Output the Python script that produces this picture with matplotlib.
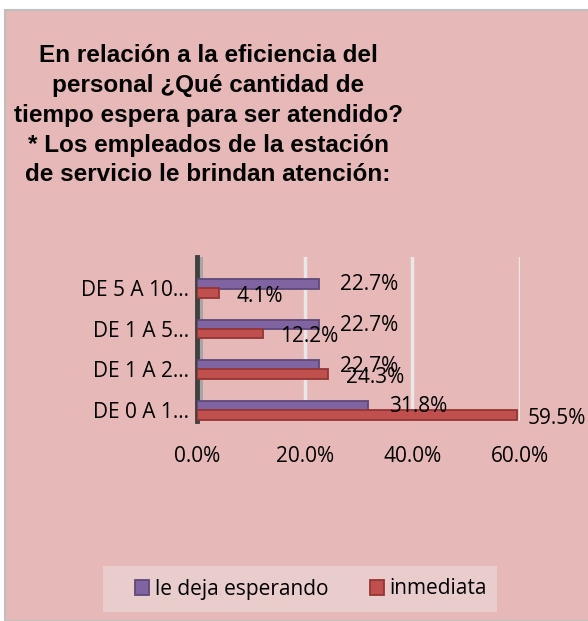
import matplotlib.pyplot as plt
from matplotlib.patches import Rectangle

categorias = ['DE 0 A 1…', 'DE 1 A 2…', 'DE 1 A 5…', 'DE 5 A 10…']
le_deja = [31.8, 22.7, 22.7, 22.7]
inmediata = [59.5, 24.3, 12.2, 4.1]
ticks = [0, 20, 40, 60]

fondo = '#E6B8B7'
fig = plt.figure(figsize=(5.88, 6.21), dpi=100)
fig.patch.set_facecolor('white')
fig.patches.append(Rectangle((5/588, 0), 1, 1 - 10/621, transform=fig.transFigure,
                             facecolor=fondo, edgecolor='#BFBFBF', linewidth=1.5, zorder=-1))

titulo = ('En relación a la eficiencia del\npersonal ¿Qué cantidad de\n'
          'tiempo espera para ser atendido?\n* Los empleados de la estación\n'
          'de servicio le brindan atención:')
fig.text(208/588, 1 - 44/621, titulo, ha='center', va='top', fontsize=17.5,
         fontweight='bold', family='Liberation Sans', linespacing=1.38)

ax = fig.add_axes([197/588, 1 - 421/621, (520-197)/588, 164/621])
ax.set_facecolor('none')
y = range(len(categorias))
h = 0.24
ax.barh([i + 0.1 for i in y], le_deja, height=h, color='#8064A2', edgecolor='#5F497A', linewidth=1.3, zorder=3, label='le deja esperando')
ax.barh([i - 0.12 for i in y], inmediata, height=h, color='#C0504D', edgecolor='#943634', linewidth=1.3, zorder=3, label='inmediata')

for i in y:
    ax.text(le_deja[i] + 3.8, i + 0.08, f'{le_deja[i]:.1f}%', va='center', ha='left', fontsize=15, family='Open Sans')
    ax.text(min(inmediata[i] + 3.3, 61.4), i - 0.2, f'{inmediata[i]:.1f}%', va='center', ha='left', fontsize=15, family='Open Sans')

ax.set_xlim(0, 60)
ax.set_ylim(-0.27, 3.76)
ax.set_xticks(ticks)
ax.set_xticklabels([f'{t:.1f}%' for t in ticks], fontsize=15, family='Open Sans')
ax.set_yticks(list(y))
ax.set_yticklabels(categorias, fontsize=15, family='Open Sans')
ax.tick_params(length=0)
ax.tick_params(axis='x', pad=18)
ax.tick_params(axis='y', pad=6)
ax.xaxis.grid(True, color='#E8E8E8', linewidth=2.5, zorder=0)
for s in ['top', 'right', 'bottom']:
    ax.spines[s].set_visible(False)
ax.spines['left'].set_color('#404040')
ax.spines['left'].set_linewidth(3.5)
ax.add_patch(Rectangle((0, -0.27), 1.2, 4.03, facecolor='#A6A6A6', edgecolor='none', zorder=1))

# caja de la leyenda
fig.patches.append(Rectangle((103/588, 1 - 612/621), 394/588, 46/621, transform=fig.transFigure,
                             facecolor='#E9CCCC', edgecolor='none', zorder=0))
fig.legend(loc='center', bbox_to_anchor=(311/588, 1 - 589/621), ncol=2, frameon=False,
           prop={'family': 'Open Sans', 'size': 15}, handlelength=0.7, handleheight=0.7,
           columnspacing=2.0, handletextpad=0.25)

plt.savefig('out.png', dpi=100, facecolor=fig.get_facecolor())
